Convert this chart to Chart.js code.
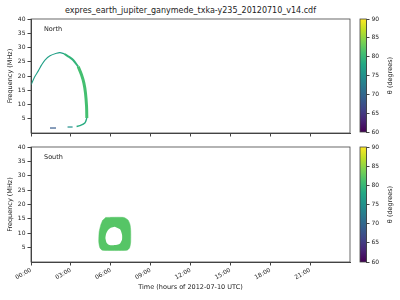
<!DOCTYPE html>
<html>
<head>
<meta charset="utf-8">
<script src="https://cdn.jsdelivr.net/npm/chart.js@4"></script>
<style>
  html, body { margin: 0; padding: 0; background: #fff; }
  #wrap { position: relative; width: 400px; height: 300px; font-family: "DejaVu Sans", sans-serif; }
  #wrap canvas { position: absolute; }
  #title { position: absolute; left: 31px; width: 319px; top: 5px; line-height: 12px; font-size: 8px; text-align: center; color: #222; }
</style>
</head>
<body>
<div id="wrap">
  <div id="title">expres_earth_jupiter_ganymede_txka-y235_20120710_v14.cdf</div>
  <canvas id="north" style="left:0;top:0"></canvas>
  <canvas id="south" style="left:0;top:140px"></canvas>
  <canvas id="cbNorth" style="left:350px;top:0"></canvas>
  <canvas id="cbSouth" style="left:350px;top:140px"></canvas>
</div>
<script>
// times are hours of the day, frequencies in MHz, theta in degrees

const xTickHours = [0, 3, 6, 9, 12, 15, 18, 21];
const xTickLabels = ["00:00", "03:00", "06:00", "09:00", "12:00", "15:00", "18:00", "21:00"];
const yTicks = [5, 10, 15, 20, 25, 30, 35, 40];
const thetaTicks = [60, 65, 70, 75, 80, 85, 90];

// north: the big arc
const riseT = [0.02, 0.25, 0.55, 0.8, 1.05, 1.43, 1.93, 2.18, 2.5];
const riseF = [17.0, 19.5, 21.8, 23.9, 25.6, 27.1, 28.0, 28.2, 27.8];
const riseTheta = 77;

const fallUpperT = [2.5, 2.9, 3.17, 3.55];
const fallUpperF = [27.8, 26.6, 25.6, 23.3];
const fallUpperTheta = 79.5;

const fallLowerT = [3.55, 3.8, 3.98, 4.1, 4.18, 4.2];
const fallLowerF = [23.3, 20.4, 17.5, 14.0, 9.3, 5.25];
const fallLowerTheta = 81;

const hookT = [4.2, 4.05, 3.67, 3.43];
const hookF = [5.25, 3.5, 2.56, 2.3];
const hookTheta = 78.5;

const dashAT = [1.43, 1.88];
const dashAF = [1.75, 1.75];
const dashATheta = 68.5;

const dashBT = [2.75, 3.13];
const dashBF = [2.1, 2.1];
const dashBTheta = 75;

// south: the ring
const ringOuterT = [5.6, 6.97, 7.3, 7.45, 7.5, 7.5, 7.42, 7.22, 5.37, 5.18, 5.1, 5.13, 5.25, 5.4];
const ringOuterF = [15.5, 15.5, 14.6, 13.0, 11.0, 7.0, 5.0, 4.1, 4.1, 5.0, 7.0, 10.5, 12.9, 14.6];
const ringInnerT = [6.3, 6.7, 6.85, 6.85, 6.7, 6.4, 5.9, 5.7, 5.6, 5.65, 5.8, 6.0];
const ringInnerF = [12.3, 11.4, 9.5, 7.8, 6.4, 5.9, 5.9, 6.6, 8.3, 9.8, 11.1, 11.9];
const ringTheta = 82;

const viridisStops = ["#440154", "#482475", "#414487", "#355f8d", "#2a788e", "#21918c",
  "#22a884", "#44bf70", "#7ad151", "#bddf26", "#fde725"];

function hexRgb(h) {
  return [1, 3, 5].map(i => parseInt(h.slice(i, i + 2), 16));
}

function viridis(t) {
  t = Math.min(1, Math.max(0, t));
  const pos = t * (viridisStops.length - 1);
  const i = Math.min(Math.floor(pos), viridisStops.length - 2);
  const f = pos - i;
  const a = hexRgb(viridisStops[i]), b = hexRgb(viridisStops[i + 1]);
  const c = a.map((v, k) => Math.round(v + (b[k] - v) * f));
  return `rgb(${c[0]},${c[1]},${c[2]})`;
}

const thetaColor = th => viridis((th - 60) / 30);

function pts(ts, fs) {
  return ts.map((t, i) => ({ x: t, y: fs[i] }));
}

function stroke(ts, fs, theta, width) {
  return {
    data: pts(ts, fs),
    showLine: true,
    borderColor: thetaColor(theta),
    borderWidth: width,
    pointRadius: 0,
    tension: 0.3,
    borderCapStyle: "butt"
  };
}

const font = { family: "'DejaVu Sans', sans-serif", size: 6 };
const axisColor = "#444";
const textColor = "#222";

// matplotlib style box around the axes + the little panel name
const framePlugin = {
  id: "frame",
  afterDraw(chart) {
    const { ctx, chartArea: a } = chart;
    ctx.save();
    ctx.strokeStyle = axisColor;
    ctx.lineWidth = 0.8;
    ctx.strokeRect(a.left, a.top, a.right - a.left, a.bottom - a.top);
    const lbl = chart.options.plugins.panelLabel;
    if (lbl && lbl.text) {
      ctx.fillStyle = textColor;
      ctx.font = "6.5px 'DejaVu Sans', sans-serif";
      ctx.textBaseline = "middle";
      ctx.fillText(lbl.text, a.left + 13, a.top + 10.5);
    }
    ctx.restore();
  }
};

// colorbar label reads bottom to top like matplotlib
const cbTitlePlugin = {
  id: "cbTitle",
  afterDraw(chart) {
    const { ctx, chartArea: a } = chart;
    ctx.save();
    ctx.translate(a.right + 24, (a.top + a.bottom) / 2);
    ctx.rotate(-Math.PI / 2);
    ctx.fillStyle = textColor;
    ctx.font = "6.5px 'DejaVu Sans', sans-serif";
    ctx.textAlign = "center";
    ctx.textBaseline = "middle";
    ctx.fillText("\u03b8 (degrees)", 0, 0);
    ctx.restore();
  }
};

function makePanel(id, height, padTop, xHeight, label, showXLabels, datasets) {
  const el = document.getElementById(id);
  el.width = 400; el.height = height;
  el.style.width = "400px"; el.style.height = height + "px";
  return new Chart(el, {
    type: "scatter",
    data: { datasets },
    plugins: [framePlugin],
    options: {
      responsive: false,
      animation: false,
      events: [],
      layout: { padding: { top: padTop, right: 50, left: 0, bottom: 0 } },
      plugins: { legend: { display: false }, tooltip: { enabled: false }, panelLabel: { text: label } },
      scales: {
        x: {
          type: "linear", min: 0, max: 24,
          afterBuildTicks: s => { s.ticks = xTickHours.map(v => ({ value: v })); },
          afterFit: s => { s.height = xHeight; },
          grid: { drawOnChartArea: false, tickLength: 3.5, color: axisColor },
          border: { color: axisColor },
          ticks: {
            display: showXLabels, font, color: textColor, padding: 1,
            maxRotation: 30, minRotation: 30,
            callback: v => xTickLabels[xTickHours.indexOf(v)] ?? ""
          },
          title: {
            display: showXLabels, text: "Time (hours of 2012-07-10 UTC)",
            font: { ...font, size: 6.5 }, color: textColor, padding: { top: 0, bottom: 9 }
          }
        },
        y: {
          min: 0, max: 40,
          afterBuildTicks: s => { s.ticks = yTicks.map(v => ({ value: v })); },
          afterFit: s => { s.width = 31; },
          grid: { drawOnChartArea: false, tickLength: 3.5, color: axisColor },
          border: { color: axisColor },
          ticks: { font, color: textColor, padding: 2 },
          title: {
            display: true, text: "Frequency (MHz)",
            font: { ...font, size: 6.5 }, color: textColor, padding: { top: 6, bottom: 0 }
          }
        }
      }
    }
  });
}

function makeColorbar(id, height, padTop, padBottom) {
  const el = document.getElementById(id);
  el.width = 50; el.height = height;
  el.style.width = "50px"; el.style.height = height + "px";
  return new Chart(el, {
    type: "bar",
    data: {
      labels: [""],
      datasets: [{
        data: [[thetaTicks[0], thetaTicks[thetaTicks.length - 1]]],
        borderWidth: 0,
        categoryPercentage: 1,
        barPercentage: 1,
        backgroundColor: (c) => {
          const a = c.chart.chartArea;
          if (!a) return viridisStops[5];
          const g = c.chart.ctx.createLinearGradient(0, a.bottom, 0, a.top);
          viridisStops.forEach((s, i) => g.addColorStop(i / (viridisStops.length - 1), s));
          return g;
        }
      }]
    },
    plugins: [framePlugin, cbTitlePlugin],
    options: {
      responsive: false,
      animation: false,
      events: [],
      layout: { padding: { top: padTop, bottom: padBottom, left: 10, right: 0 } },
      plugins: { legend: { display: false }, tooltip: { enabled: false } },
      scales: {
        x: { display: false },
        y: {
          position: "right", min: 60, max: 90,
          afterBuildTicks: s => { s.ticks = thetaTicks.map(v => ({ value: v })); },
          afterFit: s => { s.width = 33.5; },
          grid: { drawOnChartArea: false, tickLength: 3, color: axisColor },
          border: { color: axisColor },
          ticks: { font, color: textColor, padding: 2 }
        }
      }
    }
  });
}

makePanel("north", 140, 19, 7, "North", false, [
  stroke(riseT, riseF, riseTheta, 1.1),
  stroke(fallUpperT, fallUpperF, fallUpperTheta, 2.0),
  stroke(fallLowerT, fallLowerF, fallLowerTheta, 3.0),
  stroke(hookT, hookF, hookTheta, 1.4),
  stroke(dashAT, dashAF, dashATheta, 1.2),
  stroke(dashBT, dashBF, dashBTheta, 1.2)
]);

makePanel("south", 160, 7, 38, "South", true, [
  {
    data: pts(ringInnerT, ringInnerF),
    showLine: true, fill: "shape", backgroundColor: "#fff",
    borderColor: "#fff", borderWidth: 0, pointRadius: 0, tension: 0.2, order: 0
  },
  {
    data: pts(ringOuterT, ringOuterF),
    showLine: true, fill: "shape", backgroundColor: thetaColor(ringTheta),
    borderColor: thetaColor(ringTheta), borderWidth: 0.5, pointRadius: 0, tension: 0.2, order: 1
  }
]);

makeColorbar("cbNorth", 140, 19, 8);
makeColorbar("cbSouth", 160, 7, 38);
</script>
</body>
</html>
